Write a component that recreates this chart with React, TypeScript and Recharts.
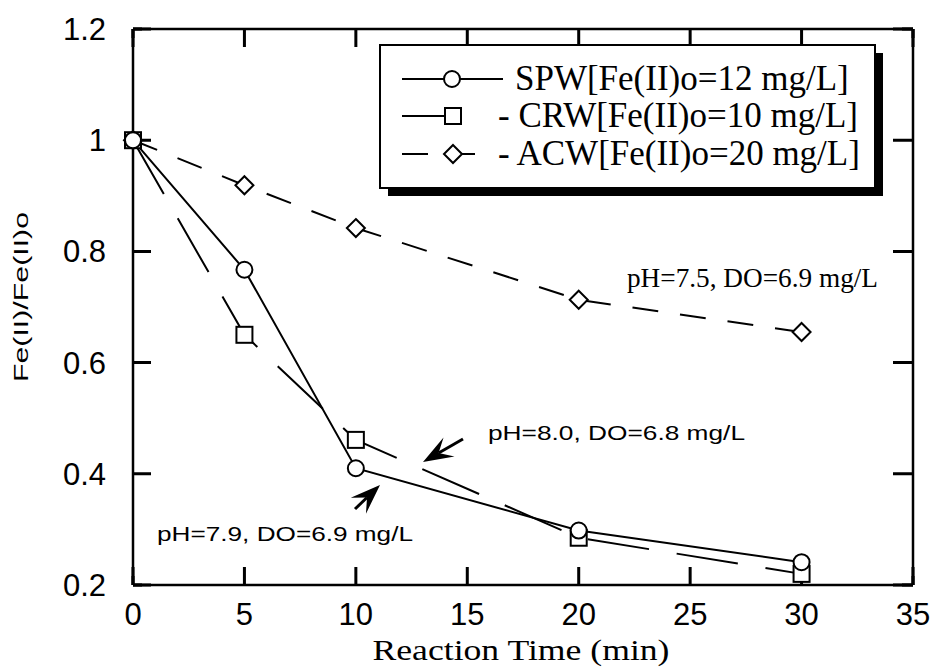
import React from "react";
import {
  LineChart,
  Line,
  XAxis,
  YAxis,
  Legend,
  CartesianGrid,
  Customized,
} from "recharts";

// reaction time (min)
const times = [0, 5, 10, 20, 30];
// Fe(II)/Fe(II)o for each water
const spw = [1.0, 0.767, 0.41, 0.298, 0.241];
const crw = [1.0, 0.65, 0.461, 0.285, 0.22];
const acw = [1.0, 0.919, 0.842, 0.713, 0.655];

const xMajor = [0, 5, 10, 15, 20, 25, 30, 35];
const xAll = [
  0, 1, 2, 3, 4, 5, 6, 7, 8, 9, 10, 11, 12, 13, 14, 15, 16, 17, 18, 19, 20,
  21, 22, 23, 24, 25, 26, 27, 28, 29, 30, 31, 32, 33, 34, 35,
];
const yMajor = [0.2, 0.4, 0.6, 0.8, 1.0, 1.2];
const yAll = [
  0.2, 0.25, 0.3, 0.35, 0.4, 0.45, 0.5, 0.55, 0.6, 0.65, 0.7, 0.75, 0.8, 0.85,
  0.9, 0.95, 1.0, 1.05, 1.1, 1.15, 1.2,
];

const legendItems = [
  { label: "SPW[Fe(II)o=12 mg/L]", prefix: "" },
  { label: "CRW[Fe(II)o=10 mg/L]", prefix: "- " },
  { label: "ACW[Fe(II)o=20 mg/L]", prefix: "- " },
];

const data = times.map((t, i) => ({ t, spw: spw[i], crw: crw[i], acw: acw[i] }));

const SANS = "'Liberation Sans', Arial, Helvetica, sans-serif";
const SERIF = "'Liberation Serif', 'Times New Roman', serif";
const black = { stroke: "#000", strokeWidth: 2.5 };

const X_LO = 0, X_HI = 35, Y_LO = 0.2, Y_HI = 1.2;

// chart geometry (margins + axis sizes below)
const W = 939, H = 670;
const MARGIN = { top: 28, right: 25, bottom: 25, left: 53 };
const PW = W - MARGIN.left - 80 - MARGIN.right - 1; // plot width
const PH = H - MARGIN.top - 1 - MARGIN.bottom - 60; // plot height

// inward tick marks drawn as dashed grid lines: a dash at each end only
const dashV = (len: number) => `${len} ${PH - 2 * len} ${len} 0`;
const dashH = (len: number) => `${len} ${PW - 2 * len - 2} ${len + 2} 0`;

const BottomLabel = (props: any) => {
  const { x, y, payload } = props;
  return (
    <text x={x} y={y + 40} textAnchor="middle" fontFamily={SANS} fontSize={31} fill="#000">
      {payload.value}
    </text>
  );
};

const LeftLabel = (props: any) => {
  const { x, y, payload } = props;
  const v = payload.value;
  return (
    <text x={x - 27} y={y + 11} textAnchor="end" fontFamily={SANS} fontSize={31} fill="#000">
      {Math.abs(v - 1) < 1e-6 ? "1" : v.toFixed(1)}
    </text>
  );
};

const CircleDot = (props: any) => (
  <circle key={props.key} cx={props.cx} cy={props.cy} r={8} fill="#fff" stroke="#000" strokeWidth={2} />
);
const SquareDot = (props: any) => (
  <rect key={props.key} x={props.cx - 8} y={props.cy - 8} width={16} height={16} fill="#fff" stroke="#000" strokeWidth={2} />
);
const DiamondDot = (props: any) => {
  const { cx, cy } = props;
  return (
    <path
      key={props.key}
      d={`M${cx},${cy - 9}L${cx + 9},${cy}L${cx},${cy + 9}L${cx - 9},${cy}Z`}
      fill="#fff"
      stroke="#000"
      strokeWidth={2}
    />
  );
};

const Arrow = ({ x1, y1, x2, y2 }: { x1: number; y1: number; x2: number; y2: number }) => {
  const dx = x2 - x1;
  const dy = y2 - y1;
  const len = Math.hypot(dx, dy);
  const ux = dx / len;
  const uy = dy / len;
  const nx = -uy;
  const ny = ux;
  const hl = 30;
  const hw = 11;
  const bx = x2 - ux * hl;
  const by = y2 - uy * hl;
  const mx = x2 - ux * hl * 0.6;
  const my = y2 - uy * hl * 0.6;
  return (
    <g>
      <line x1={x1} y1={y1} x2={mx} y2={my} stroke="#000" strokeWidth={3} />
      <path
        d={`M${x2},${y2}L${bx + nx * hw},${by + ny * hw}L${mx},${my}L${bx - nx * hw},${by - ny * hw}Z`}
        fill="#000"
      />
    </g>
  );
};

const Annotations = () => (
  <g>
    <text
      x={20}
      y={297}
      transform="rotate(-90 20 297)"
      textAnchor="middle"
      dominantBaseline="central"
      fontFamily={SANS}
      fontSize={21}
      textLength={170}
      lengthAdjust="spacingAndGlyphs"
    >
      Fe(II)/Fe(II)o
    </text>
    <text
      x={521}
      y={660}
      textAnchor="middle"
      fontFamily={SERIF}
      fontSize={30}
      textLength={297}
      lengthAdjust="spacingAndGlyphs"
    >
      Reaction Time (min)
    </text>
    <text x={627} y={287} fontFamily={SERIF} fontSize={27} textLength={251} lengthAdjust="spacingAndGlyphs">
      pH=7.5, DO=6.9 mg/L
    </text>
    <text x={488} y={440} fontFamily={SANS} fontSize={21} textLength={257} lengthAdjust="spacingAndGlyphs">
      pH=8.0, DO=6.8 mg/L
    </text>
    <text x={157} y={541} fontFamily={SANS} fontSize={21} textLength={256} lengthAdjust="spacingAndGlyphs">
      pH=7.9, DO=6.9 mg/L
    </text>
    <Arrow x1={463} y1={439} x2={423} y2={462} />
    <Arrow x1={355} y1={509} x2={380} y2={485} />
  </g>
);

const renderLegend = () => {
  const rows = [35, 72, 110];
  return (
    <svg width={510} height={160} style={{ display: "block" }}>
      <rect x={9} y={9} width={495} height={143} fill="#000" />
      <rect x={1} y={1} width={495} height={143} fill="#fff" stroke="#000" strokeWidth={2} />
      <line x1={23} x2={124} y1={rows[0]} y2={rows[0]} stroke="#000" strokeWidth={2} />
      <circle cx={73} cy={rows[0]} r={8} fill="#fff" stroke="#000" strokeWidth={2} />
      <line x1={23} x2={66} y1={rows[1]} y2={rows[1]} stroke="#000" strokeWidth={2} />
      <rect x={66} y={rows[1] - 8} width={16} height={16} fill="#fff" stroke="#000" strokeWidth={2} />
      <line x1={23} x2={49} y1={rows[2]} y2={rows[2]} stroke="#000" strokeWidth={2} />
      <path
        d={`M74,${rows[2] - 9}L83,${rows[2]}L74,${rows[2] + 9}L65,${rows[2]}Z`}
        fill="#fff"
        stroke="#000"
        strokeWidth={2}
      />
      <line x1={83} x2={96} y1={rows[2]} y2={rows[2]} stroke="#000" strokeWidth={2} />
      {legendItems.map((item, i) => (
        <text
          key={item.label}
          x={item.prefix ? 119 : 136}
          y={rows[i] + 11}
          fontFamily={SERIF}
          fontSize={35}
          fill="#000"
        >
          {item.prefix + item.label}
        </text>
      ))}
    </svg>
  );
};

export default function App() {
  return (
    <div style={{ position: "absolute", left: 0, top: 0, width: W, height: H, background: "#fff" }}>
      <LineChart width={W} height={H} data={data} margin={MARGIN}>
        <XAxis
          xAxisId="x"
          dataKey="t"
          type="number"
          domain={[X_LO, X_HI]}
          ticks={xMajor}
          interval={0}
          height={60}
          tickSize={0}
          tickMargin={0}
          tickLine={false}
          axisLine={black}
          tick={<BottomLabel />}
        />
        <XAxis
          xAxisId="top"
          orientation="top"
          type="number"
          domain={[X_LO, X_HI]}
          ticks={xAll}
          interval={0}
          height={1}
          tickLine={false}
          tick={false}
          axisLine={black}
        />
        <YAxis
          yAxisId="y"
          type="number"
          domain={[Y_LO, Y_HI]}
          ticks={yMajor}
          interval={0}
          width={80}
          tickSize={0}
          tickMargin={0}
          tickLine={false}
          axisLine={black}
          tick={<LeftLabel />}
          allowDataOverflow
        />
        <YAxis
          yAxisId="right"
          orientation="right"
          type="number"
          domain={[Y_LO, Y_HI]}
          ticks={yAll}
          interval={0}
          width={1}
          tickLine={false}
          tick={false}
          axisLine={black}
        />
        {/* tick marks on all four sides, from the axes' own tick positions */}
        <CartesianGrid xAxisId="x" yAxisId="y" horizontal={false} stroke="#000" strokeWidth={3} strokeDasharray={dashV(18)} />
        <CartesianGrid xAxisId="top" yAxisId="right" horizontal={false} stroke="#000" strokeWidth={3} strokeDasharray={dashV(9)} />
        <CartesianGrid xAxisId="x" yAxisId="y" vertical={false} stroke="#000" strokeWidth={3} strokeDasharray={dashH(18)} />
        <CartesianGrid xAxisId="top" yAxisId="right" vertical={false} stroke="#000" strokeWidth={3} strokeDasharray={dashH(9)} />
        <Legend
          layout="vertical"
          verticalAlign="middle"
          align="center"
          content={renderLegend}
          wrapperStyle={{ position: "absolute", left: 379, top: 44, width: 510, height: 160 }}
        />
        <Line
          xAxisId="x"
          yAxisId="y"
          dataKey="acw"
          stroke="#000"
          strokeWidth={2}
          strokeDasharray="26 22"
          dot={DiamondDot}
          isAnimationActive={false}
        />
        <Line
          xAxisId="x"
          yAxisId="y"
          dataKey="crw"
          stroke="#000"
          strokeWidth={2}
          strokeDasharray="62 28"
          dot={SquareDot}
          isAnimationActive={false}
        />
        <Line
          xAxisId="x"
          yAxisId="y"
          dataKey="spw"
          stroke="#000"
          strokeWidth={2}
          dot={CircleDot}
          isAnimationActive={false}
        />
        <Customized component={<Annotations />} />
      </LineChart>
    </div>
  );
}
